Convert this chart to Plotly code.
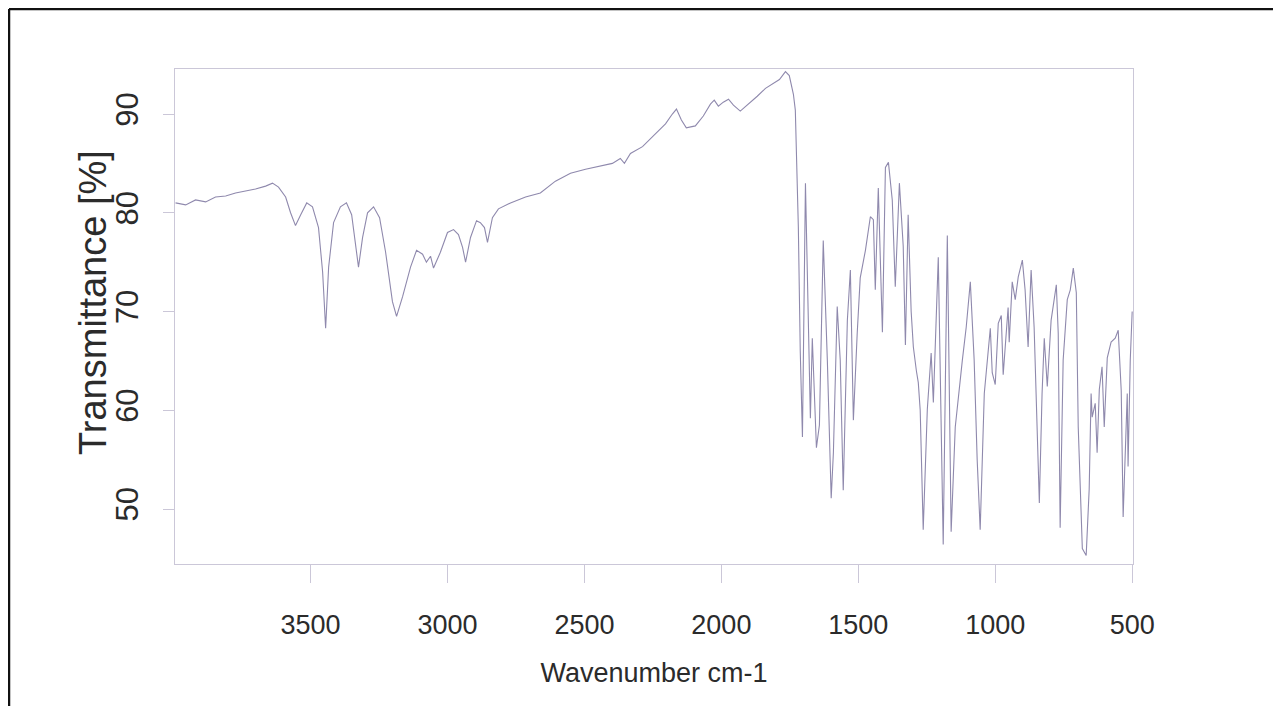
import plotly.graph_objects as go

# IR spectrum (wavenumber in cm-1, transmittance in %)
wavenumber = [
    3993, 3956, 3920, 3883, 3847, 3810, 3774, 3737, 3701, 3664, 3639, 3617, 3591, 3573, 3555,
    3536, 3514, 3493, 3471, 3456, 3445, 3434, 3416, 3391, 3369, 3350, 3336, 3325, 3310, 3292,
    3270, 3248, 3226, 3201, 3186, 3164, 3135, 3113, 3091, 3077, 3062, 3051, 3026, 3000, 2978,
    2960, 2945, 2934, 2916, 2894, 2880, 2865, 2854, 2836, 2814, 2770, 2715, 2661, 2606, 2551,
    2496, 2442, 2398, 2369, 2354, 2332, 2288, 2241, 2204, 2179, 2164, 2146, 2128, 2095, 2066,
    2040, 2026, 2011, 1993, 1974, 1956, 1931, 1901, 1869, 1839, 1814, 1788, 1766, 1752, 1737,
    1730, 1719, 1712, 1704, 1693, 1675, 1668, 1653, 1642, 1628, 1613, 1599, 1591, 1577, 1566,
    1555, 1540, 1529, 1518, 1504, 1493, 1474, 1456, 1445, 1438, 1427, 1412, 1401, 1390, 1376,
    1365, 1350, 1336, 1328, 1318, 1307, 1299, 1288, 1281, 1274, 1263, 1248, 1234, 1226, 1208,
    1190, 1175, 1161, 1146, 1120, 1106, 1091, 1077, 1066, 1055, 1040, 1026, 1018, 1011, 1000,
    989, 978, 971, 953, 949, 938, 927, 916, 901, 891, 880, 869, 858, 847, 839,
    829, 821, 810, 796, 777, 770, 763, 752, 737, 726, 715, 704, 697, 682, 668,
    657, 650, 646, 635, 628, 620, 610, 602, 591, 577, 562, 551, 540, 533, 526,
    518, 515, 507, 500,
]
transmittance = [
    81.0, 80.8, 81.3, 81.1, 81.6, 81.7, 82.0, 82.2, 82.4, 82.7, 83.0, 82.6, 81.6, 80.0, 78.7,
    79.8, 81.0, 80.6, 78.5, 74.0, 68.3, 74.5, 79.0, 80.6, 81.0, 79.8, 77.0, 74.5, 77.5, 80.0,
    80.6, 79.5, 76.0, 71.0, 69.5, 71.5, 74.5, 76.2, 75.8, 75.0, 75.6, 74.4, 76.0, 78.0, 78.3,
    77.8, 76.5, 75.0, 77.5, 79.2, 79.0, 78.5, 77.0, 79.5, 80.4, 81.0, 81.6, 82.0, 83.2, 84.0,
    84.4, 84.7, 85.0, 85.5, 85.0, 86.0, 86.7, 88.0, 89.0, 90.0, 90.5, 89.4, 88.6, 88.8, 89.8,
    91.0, 91.4, 90.8, 91.2, 91.5, 90.9, 90.3, 91.0, 91.8, 92.6, 93.0, 93.5, 94.3, 93.9, 92.0,
    90.4, 78.6, 66.0, 57.3, 83.0, 59.2, 67.3, 56.2, 58.5, 77.2, 65.0, 51.1, 55.7, 70.5, 65.1,
    51.9, 69.1, 74.2, 59.0, 67.8, 73.4, 76.2, 79.6, 79.3, 72.2, 82.5, 67.9, 84.6, 85.1, 81.3,
    72.5, 83.0, 76.6, 66.6, 79.8, 70.0, 66.4, 64.0, 62.8, 60.0, 47.9, 60.1, 65.8, 60.8, 75.5,
    46.4, 77.7, 47.7, 58.3, 65.1, 68.4, 73.0, 65.1, 55.0, 47.9, 61.7, 66.4, 68.3, 63.8, 62.6,
    68.8, 69.6, 63.6, 70.4, 66.9, 73.0, 71.2, 73.5, 75.2, 72.2, 66.4, 74.2, 68.4, 57.0, 50.6,
    61.7, 67.3, 62.4, 69.1, 72.7, 67.8, 48.1, 65.1, 71.2, 72.2, 74.4, 71.9, 58.3, 46.0, 45.3,
    52.0, 61.7, 59.3, 60.7, 55.7, 62.1, 64.4, 58.3, 65.3, 66.9, 67.3, 68.1, 62.0, 49.2, 55.0,
    61.7, 54.3, 65.1, 70.0,
]
x_tick_values = [3500, 3000, 2500, 2000, 1500, 1000, 500]
y_tick_values = [50, 60, 70, 80, 90]
x_title = "Wavenumber cm-1"
y_title = "Transmittance [%]"

FONT = "Liberation Sans, Arial, sans-serif"
TEXT = "#2b2b2b"
FRAME = "#cbc7d8"

# the page body adds an 8 px offset; screen positions below are converted to the figure
OFF = 8
W, H = 1281 - OFF, 706 - OFF
# plot area in screen pixels
L, R, T, B = 175, 1133, 69, 564

fig = go.Figure(
    go.Scatter(
        x=wavenumber,
        y=transmittance,
        mode="lines",
        line=dict(color="#8f89ad", width=1.1),
        hoverinfo="x+y",
        showlegend=False,
    )
)


def px(xs):
    return (xs - L) / (R - L)


def py(ys):
    return (B - ys) / (B - T)


border = dict(color="#111111", width=2.5)
top_y = py(OFF + 1)
fig.add_shape(type="line", xref="paper", yref="paper", x0=px(OFF + 1), x1=px(1290), y0=top_y, y1=top_y, line=border)
fig.add_shape(type="line", xref="paper", yref="paper", x0=px(OFF + 1), x1=px(OFF + 1), y0=top_y, y1=py(720), line=border)
fig.add_shape(type="line", xref="paper", yref="paper", x0=px(1277), x1=px(1277), y0=top_y, y1=py(720), line=border)

fig.add_annotation(
    text=y_title, xref="paper", yref="paper", x=px(93), y=py(303),
    xanchor="center", yanchor="middle", textangle=-90, showarrow=False,
    font=dict(size=38, family=FONT, color=TEXT),
)

fig.update_layout(
    width=W,
    height=H,
    margin=dict(l=L - OFF, r=W - (R - OFF), t=T - OFF, b=H - (B - OFF), autoexpand=False),
    paper_bgcolor="white",
    plot_bgcolor="white",
    font=dict(family=FONT, color=TEXT),
    xaxis=dict(
        range=[3995, 497],
        tickvals=x_tick_values,
        ticktext=[str(v) for v in x_tick_values],
        ticks="outside",
        ticklen=18,
        tickwidth=1,
        tickcolor=FRAME,
        showline=True,
        linecolor=FRAME,
        linewidth=1,
        mirror=True,
        showgrid=False,
        zeroline=False,
        tickfont=dict(size=27, family=FONT, color=TEXT),
        ticklabelstandoff=19,
        title=dict(text=x_title, font=dict(size=27, family=FONT, color=TEXT), standoff=23),
        automargin=False,
    ),
    yaxis=dict(
        range=[44.43, 94.56],
        tickvals=y_tick_values,
        ticktext=[str(v) for v in y_tick_values],
        ticks="outside",
        ticklen=11,
        tickwidth=1,
        tickcolor=FRAME,
        tickangle=-90,
        showline=True,
        linecolor=FRAME,
        linewidth=1,
        mirror=True,
        showgrid=False,
        zeroline=False,
        tickfont=dict(size=31, family=FONT, color=TEXT),
        ticklabelstandoff=13,
        automargin=False,
    ),
)

fig.write_html("out.html")
